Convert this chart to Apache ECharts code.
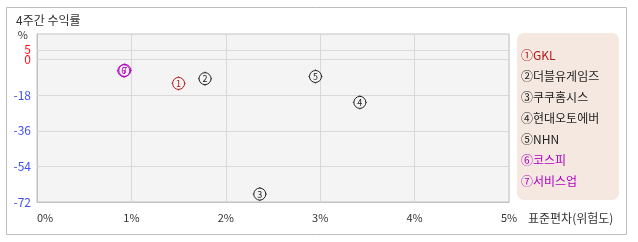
<!DOCTYPE html>
<html>
<head>
<meta charset="utf-8">
<script src="https://cdn.jsdelivr.net/npm/echarts@6/dist/echarts.min.js"></script>
<style>html,body{margin:0;padding:0;background:#fff;}#c{width:638px;height:242px;}</style>
</head>
<body>
<div id="c"></div>
<script>
const names = ['GKL', '더블유게임즈', '쿠쿠홈시스', '현대오토에버', 'NHN', '코스피', '서비스업'];
const marks = ['①', '②', '③', '④', '⑤', '⑥', '⑦'];
const digits = ['1', '2', '3', '4', '5', '6', '7'];
const stdev = [1.50, 1.78, 2.36, 3.42, 2.95, 0.92, 0.93];
const returns = [-12.0, -9.6, -68.0, -21.6, -8.5, -5.6, -5.4];
const colors = ['#b41818', '#222222', '#222222', '#222222', '#222222', '#b000c0', '#b000c0'];
const yTicks = [-72, -54, -36, -18, 0];
const yTopTick = [5];
const yGrid = [5, 0, -18, -36, -54];
const xTicks = [0, 1, 2, 3, 4, 5];

const FONT = '"Noto Sans CJK KR", "Noto Sans", sans-serif';
const markerPath = 'path://M1,7 A6,6 0 1,1 13,7 A6,6 0 1,1 1,7 Z M7,0 L7,1 M7,13 L7,14 M0,7 L1,7 M13,7 L14,7';

const series = names.map((n, i) => ({
  name: marks[i] + n,
  type: 'scatter',
  data: [[stdev[i], returns[i]]],
  symbol: markerPath,
  symbolSize: 14,
  itemStyle: { color: 'rgba(0,0,0,0)', borderColor: colors[i], borderWidth: 1, opacity: 1 },
  label: { show: true, position: 'inside', formatter: digits[i], color: colors[i], fontSize: 9, fontFamily: FONT },
  emphasis: { disabled: true },
  z: 5
}));
series.push({
  name: 'grid',
  type: 'scatter',
  data: [],
  silent: true,
  markLine: {
    silent: true,
    symbol: 'none',
    label: { show: false },
    lineStyle: { color: '#d9d9d9', type: 'solid', width: 1 },
    emphasis: { disabled: true },
    data: yGrid.map(v => ({ yAxis: v }))
  },
  z: 1
});

const labelColor = v => (v >= 0 ? '#ff1010' : '#4050f0');

const chart = echarts.init(document.getElementById('c'), null, { renderer: 'canvas' });
chart.setOption({
  animation: false,
  textStyle: { fontFamily: FONT },
  title: {
    text: '4주간 수익률', left: 16, top: 13, padding: 0,
    textStyle: { fontSize: 12, fontWeight: 'normal', color: '#333', fontFamily: FONT, lineHeight: 14 }
  },
  graphic: [
    { type: 'rect', shape: { x: 6.5, y: 7.5, width: 620, height: 227 }, style: { fill: 'none', stroke: '#bdbdbd', lineWidth: 1 }, z: -10, silent: true },
    { type: 'rect', shape: { x: 517, y: 33, width: 102, height: 167, r: 7 }, style: { fill: '#f5e8e1' }, z: -5, silent: true }
  ],
  legend: {
    orient: 'vertical', left: 516, top: 49, padding: 0, itemGap: 9,
    icon: 'none', itemWidth: 0, itemHeight: 12, selectedMode: false,
    textStyle: { fontSize: 12, lineHeight: 12, fontFamily: FONT, padding: 0 },
    data: names.map((n, i) => ({ name: marks[i] + n, textStyle: { color: colors[i] } }))
  },
  grid: {
    left: 37, top: 34, right: 129, bottom: 40, show: true,
    backgroundColor: '#f4f4f4', borderColor: '#c2c2c2', borderWidth: 1
  },
  xAxis: {
    type: 'value', min: 0, max: 5, interval: 1,
    name: '표준편차(위험도)', nameLocation: 'end', nameGap: 19,
    nameTextStyle: { fontSize: 12, color: '#333', fontFamily: FONT, verticalAlign: 'top', lineHeight: 14, padding: [9, 0, 0, 0] },
    axisLine: { show: true, onZero: false, lineStyle: { color: '#c2c2c2' } },
    axisTick: { show: false },
    axisLabel: { formatter: v => v + '%', fontSize: 11, color: '#333', margin: 10, alignMinLabel: 'left' },
    splitLine: { show: true, lineStyle: { color: '#d9d9d9' } }
  },
  yAxis: [{
    type: 'value', min: -72, max: 13, position: 'left',
    name: '%', nameLocation: 'end', nameGap: -1,
    nameTextStyle: { fontSize: 11, color: '#333', align: 'right', verticalAlign: 'middle', padding: [0, 9, 0, 0] },
    axisLine: { show: true, onZero: false, lineStyle: { color: '#c2c2c2' } },
    axisTick: { show: false },
    axisLabel: {
      customValues: yTicks, fontSize: 12, lineHeight: 9, margin: 6, hideOverlap: false,
      showMinLabel: true, showMaxLabel: true, color: labelColor
    },
    splitLine: { show: false }
  }, {
    type: 'value', min: -72, max: 13, position: 'left', offset: 0,
    axisLine: { show: false, onZero: false },
    axisTick: { show: false },
    axisLabel: {
      customValues: yTopTick, fontSize: 12, lineHeight: 9, margin: 6, hideOverlap: false,
      showMinLabel: true, showMaxLabel: true, color: labelColor
    },
    splitLine: { show: false }
  }],
  series: series
});
</script>
</body>
</html>
